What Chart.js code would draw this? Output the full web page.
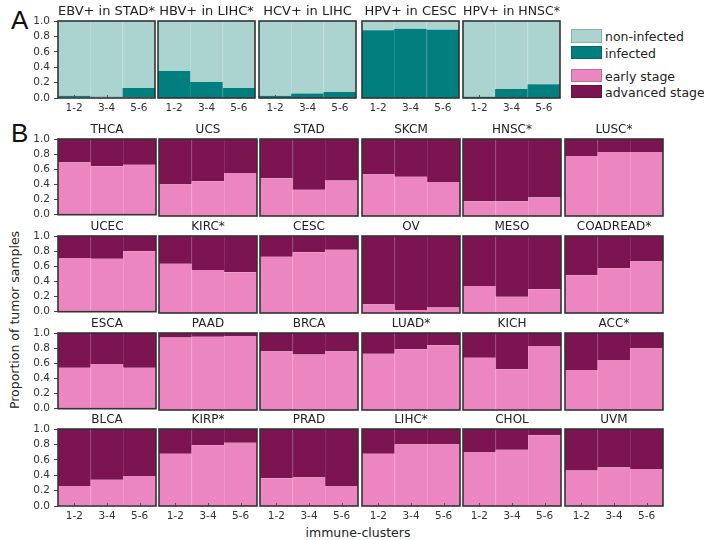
<!DOCTYPE html>
<html>
<head>
<meta charset="utf-8">
<script src="https://cdn.jsdelivr.net/npm/chart.js@4.4.1/dist/chart.umd.min.js"></script>
<style>
  body { margin: 0; background: #fff; font-family: "DejaVu Sans", sans-serif; }
  #fig { position: relative; width: 704px; height: 540px; overflow: hidden; background: #fff; }
  #fig canvas { position: absolute; }
  .txt { position: absolute; color: #222; white-space: nowrap; }
  .tag { font-family: "Liberation Sans", sans-serif; font-size: 26px; line-height: 26px; color: #111; }
  .sw { position: absolute; width: 31px; box-sizing: border-box; border: 1px solid rgba(0,0,0,0.18); }
  .lg { position: absolute; font-size: 12.5px; color: #222; white-space: nowrap; transform: translateY(-50%); }
</style>
</head>
<body>
<div id="fig">
  <div class="txt tag" style="left:11px;top:7px;">A</div>
  <div class="txt tag" style="left:11px;top:120px;">B</div>
  <div class="txt" style="left:14px;top:320px;font-size:12.5px;transform:translate(-50%,-50%) rotate(-90deg);">Proportion of tumor samples</div>
  <div class="txt" style="left:358px;top:532px;font-size:12.5px;transform:translate(-50%,-50%);">immune-clusters</div>

  <div class="sw" style="left:571px;top:29px;height:14px;background:#abd3cf;"></div>
  <div class="lg" style="left:605px;top:36px;">non-infected</div>
  <div class="sw" style="left:571px;top:46px;height:13px;background:#007f7e;"></div>
  <div class="lg" style="left:605px;top:52.5px;">infected</div>
  <div class="sw" style="left:571px;top:69px;height:13px;background:#eb86c0;"></div>
  <div class="lg" style="left:605px;top:75.5px;">early stage</div>
  <div class="sw" style="left:571px;top:85px;height:13px;background:#7b1450;"></div>
  <div class="lg" style="left:605px;top:91.5px;">advanced stage</div>
</div>
<script>
// immune-cluster groups on every x axis
const clusterLabels = ['1-2', '3-4', '5-6'];
// y-axis tick values (labels shown with one decimal)
const yTickValues = [0, 0.2, 0.4, 0.6, 0.8, 1.0];

// Panel A: share of virus-infected tumours per immune-cluster group
const virusPanels = ['EBV+ in STAD*', 'HBV+ in LIHC*', 'HCV+ in LIHC', 'HPV+ in CESC', 'HPV+ in HNSC*'];
const infectedShare = [
  [0.03, 0.02, 0.13],
  [0.35, 0.21, 0.13],
  [0.03, 0.06, 0.08],
  [0.88, 0.90, 0.89],
  [0.02, 0.12, 0.18]
];

// Panel B: share of early-stage tumours per immune-cluster group
const cancerTypes = [
  'THCA', 'UCS', 'STAD', 'SKCM', 'HNSC*', 'LUSC*',
  'UCEC', 'KIRC*', 'CESC', 'OV', 'MESO', 'COADREAD*',
  'ESCA', 'PAAD', 'BRCA', 'LUAD*', 'KICH', 'ACC*',
  'BLCA', 'KIRP*', 'PRAD', 'LIHC*', 'CHOL', 'UVM'
];
const earlyStageShare = [
  [0.69, 0.64, 0.66], [0.41, 0.45, 0.56], [0.49, 0.34, 0.46],
  [0.54, 0.51, 0.44], [0.19, 0.19, 0.24], [0.78, 0.83, 0.83],
  [0.71, 0.70, 0.80], [0.64, 0.56, 0.53], [0.73, 0.79, 0.82],
  [0.11, 0.04, 0.07], [0.35, 0.21, 0.31], [0.49, 0.58, 0.67],
  [0.54, 0.59, 0.54], [0.94, 0.95, 0.96], [0.76, 0.72, 0.76],
  [0.73, 0.79, 0.84], [0.68, 0.53, 0.83], [0.52, 0.65, 0.80],
  [0.26, 0.34, 0.39], [0.68, 0.79, 0.82], [0.36, 0.37, 0.26],
  [0.68, 0.80, 0.80], [0.70, 0.73, 0.92], [0.46, 0.50, 0.48]
];

const COLORS = {
  infected: '#007f7e', infectedEdge: '#1a8c8b',
  nonInfected: '#abd3cf', nonInfectedEdge: '#b9dbd8',
  early: '#eb86c0', earlyEdge: '#f096c9',
  advanced: '#7b1450', advancedEdge: '#892a60'
};
const FONT = 'DejaVu Sans';
const fig = document.getElementById('fig');

// dark box around each plot area, plus small inner x ticks where labels are shown
const framePlugin = {
  id: 'frame',
  afterDatasetsDraw(chart) {
    const { ctx, chartArea: a } = chart;
    ctx.save();
    const xs = chart.scales.x;
    if (xs.options.display) {
      ctx.strokeStyle = '#555';
      ctx.lineWidth = 1;
      for (let i = 0; i < clusterLabels.length; i++) {
        const px = Math.round(xs.getPixelForTick(i)) + 0.5;
        ctx.beginPath();
        ctx.moveTo(px, a.bottom);
        ctx.lineTo(px, a.bottom - 3);
        ctx.stroke();
      }
    }
    ctx.strokeStyle = '#333';
    ctx.lineWidth = 1.6;
    ctx.strokeRect(a.left, a.top, a.right - a.left, a.bottom - a.top);
    ctx.restore();
  }
};

function makePanel(o) {
  const padL = o.showY ? 0 : 3;
  const axisW = o.showY ? 46 : 0;
  const axisH = o.showX ? 22 : 0;
  const L = padL + axisW, R = 3, T = 17, B = o.showX ? axisH : 9;
  const W = o.w + L + R, H = o.h + T + B;
  const cv = document.createElement('canvas');
  cv.width = W; cv.height = H;
  cv.style.width = W + 'px'; cv.style.height = H + 'px';
  cv.style.left = (o.left - L) + 'px';
  cv.style.top = (o.top - T) + 'px';
  fig.appendChild(cv);

  const sideBorder = { left: 1, right: 0, top: 0, bottom: 0 };
  new Chart(cv, {
    type: 'bar',
    data: {
      labels: clusterLabels,
      datasets: [
        {
          data: o.values,
          backgroundColor: o.low, borderColor: o.lowEdge,
          borderWidth: sideBorder, borderSkipped: false
        },
        {
          data: o.values.map(v => [v, 1]),
          backgroundColor: o.high, borderColor: o.highEdge,
          borderWidth: sideBorder, borderSkipped: false
        }
      ]
    },
    options: {
      responsive: false,
      animation: false,
      devicePixelRatio: 1,
      events: [],
      layout: { padding: { left: padL, right: R, top: 0, bottom: o.showX ? 0 : B } },
      datasets: { bar: { barPercentage: 1, categoryPercentage: 1 } },
      plugins: {
        legend: { display: false },
        tooltip: { enabled: false },
        title: {
          display: true, text: o.title, color: '#222', fullSize: false,
          font: { family: FONT, size: o.titleSize, weight: 'normal', lineHeight: 15 / o.titleSize },
          padding: { top: 0, bottom: 2 }
        }
      },
      scales: {
        x: {
          stacked: true,
          display: o.showX,
          grid: { display: false, drawTicks: false },
          border: { display: false },
          ticks: { color: '#333', font: { family: FONT, size: 10.5 }, padding: 3.5, maxRotation: 0 },
          afterFit(s) { s.height = axisH; }
        },
        y: {
          stacked: false,
          display: o.showY,
          min: 0, max: 1,
          afterBuildTicks(s) { s.ticks = yTickValues.map(v => ({ value: v })); },
          grid: { drawOnChartArea: false, drawTicks: true, tickLength: 4, color: '#444' },
          border: { display: false },
          ticks: {
            autoSkip: false, color: '#333', padding: 4,
            font: { family: FONT, size: 10.5 },
            callback: v => Number(v).toFixed(1)
          },
          afterFit(s) { s.width = axisW; }
        }
      }
    },
    plugins: [framePlugin]
  });
}

// Panel A row
const aLefts = [58, 158, 259, 362, 463];
virusPanels.forEach((name, i) => {
  makePanel({
    left: aLefts[i], top: 21, w: 97, h: 77,
    title: name, titleSize: 13, values: infectedShare[i],
    low: COLORS.infected, lowEdge: COLORS.infectedEdge,
    high: COLORS.nonInfected, highEdge: COLORS.nonInfectedEdge,
    showY: i === 0, showX: true
  });
});

// Panel B grid, 4 rows x 6 columns
const bLefts = [58, 159, 260, 362, 463, 565];
const bTops = [139, 236, 333, 429];
cancerTypes.forEach((name, k) => {
  const r = Math.floor(k / 6), c = k % 6;
  makePanel({
    left: bLefts[c], top: bTops[r], w: 98, h: 77,
    title: name, titleSize: 12, values: earlyStageShare[k],
    low: COLORS.early, lowEdge: COLORS.earlyEdge,
    high: COLORS.advanced, highEdge: COLORS.advancedEdge,
    showY: c === 0, showX: r === 3
  });
});
</script>
</body>
</html>
